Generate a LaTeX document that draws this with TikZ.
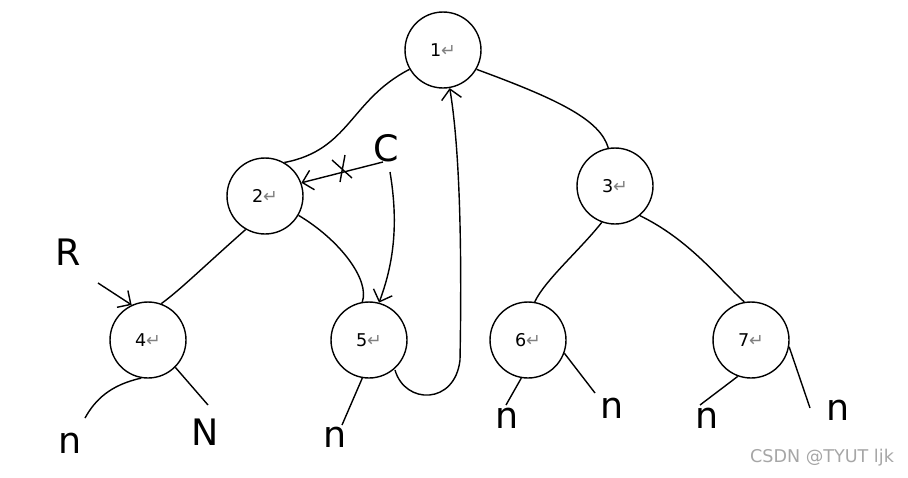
\documentclass[tikz,border=0pt]{standalone}
\usepackage{fontspec}
\setmainfont{DejaVu Sans}
\usetikzlibrary{arrows.meta}
\begin{document}
\begin{tikzpicture}[x=0.02cm,y=-0.02cm,
  nd/.style={circle,draw,thick,minimum size=1.52cm,inner sep=0pt,font=\normalsize},
  ed/.style={thick},
  hw/.style={font=\huge,inner sep=0pt},
  ar/.style={thick,-{Straight Barb[length=2mm]}}]
\useasboundingbox (0,0) rectangle (908,477);
\newcommand{\lbl}[1]{#1\textcolor{gray}{\char"21B5}}
\node[nd] (n1) at (443,50) {\lbl{1}};
\node[nd] (n2) at (265,196) {\lbl{2}};
\node[nd] (n3) at (615,186) {\lbl{3}};
\node[nd] (n4) at (148,340) {\lbl{4}};
\node[nd] (n5) at (369,340) {\lbl{5}};
\node[nd] (n6) at (528,340) {\lbl{6}};
\node[nd] (n7) at (751,340) {\lbl{7}};
\draw[ed] (n1.210) .. controls (350,100) and (350,150) .. (n2.60);
\draw[ed] (n1.-30) .. controls (560,100) and (600,120) .. (n3.100);
\draw[ed] (n2.-120) .. controls (200,270) and (180,290) .. (n4.70);
\draw[ed] (n2.-30) .. controls (340,240) and (370,280) .. (n5.100);
\draw[ed] (n3.-110) .. controls (580,250) and (545,280) .. (n6.80);
\draw[ed] (n3.-50) .. controls (690,240) and (720,280) .. (n7.100);
\node[hw] (R) at (68,252) {R};
\node[hw] (C) at (386,148) {C};
\coordinate (rs) at (98,283);
\draw[ar] (rs) -- (n4.115);
\coordinate (cs) at (383,162);
\draw[ar] (cs) -- (n2.20);
\draw[thick] (332,160) -- (352,178) (345,155) -- (340,182);
\coordinate (cd) at (390,172);
\draw[ar] (cd) .. controls (398,220) and (395,260) .. (n5.75);
\coordinate (b5) at (395,370);
\draw[ar] (b5) .. controls (405,405) and (455,405) .. (460,360) .. controls (462,250) and (460,150) .. (n1.-80);
\coordinate (l1) at (85,418); \draw[ed] (n4.-100) .. controls (110,385) and (95,400) .. (l1);
\coordinate (l2) at (208,405); \draw[ed] (n4.-45) -- (l2);
\coordinate (l3) at (342,425); \draw[ed] (n5.-100) -- (l3);
\coordinate (l4) at (506,405); \draw[ed] (n6.-100) -- (l4);
\coordinate (l5) at (595,393); \draw[ed] (n6.-20) -- (l5);
\coordinate (l6) at (700,405); \draw[ed] (n7.-110) -- (l6);
\coordinate (l7) at (810,408); \draw[ed] (n7.-10) -- (l7);
\node[hw] (a1) at (70,443) {n};
\node[hw] (a2) at (205,432) {N};
\node[hw] (a3) at (335,437) {n};
\node[hw] (a4) at (507,418) {n};
\node[hw] (a5) at (612,408) {n};
\node[hw] (a6) at (707,418) {n};
\node[hw] (a7) at (838,410) {n};
\node[font=\normalsize,text=gray!70] (wm) at (822,458) {CSDN @TYUT ljk};
\end{tikzpicture}
\end{document}
